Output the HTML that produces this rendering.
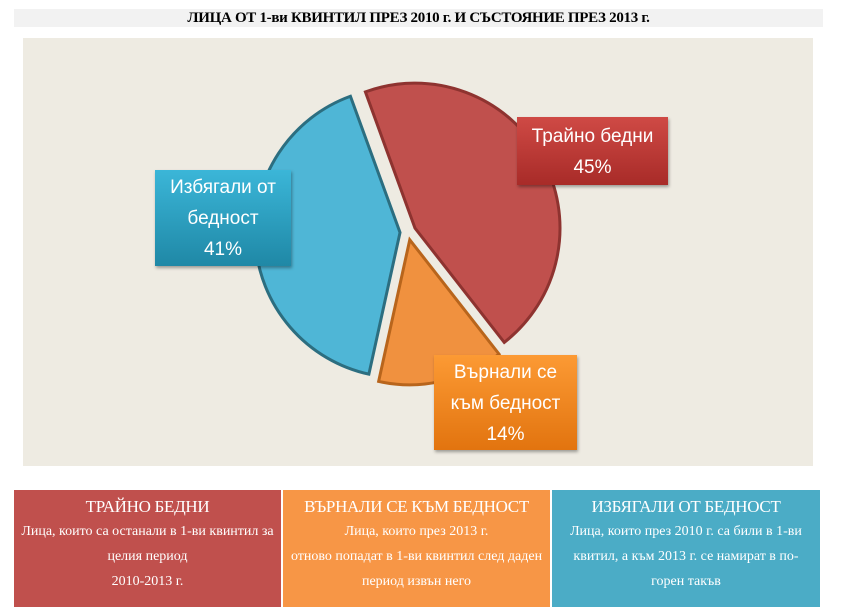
<!DOCTYPE html>
<html><head><meta charset="utf-8"><style>
body{margin:0;width:842px;height:613px;background:#fff;position:relative;overflow:hidden;font-family:"Liberation Sans","DejaVu Sans",sans-serif}
.title{position:absolute;left:14px;top:9px;width:809px;height:18px;background:#f2f2f2;text-align:center;font:bold 15px/18px "Liberation Serif",serif;letter-spacing:-0.3px;color:#000}
.plot{position:absolute;left:23px;top:38px;width:790px;height:428px;background:#eeebe2}
.lbl{position:absolute;color:#fff;text-align:center;font-size:19px;line-height:31px;box-shadow:1px 2px 3px rgba(0,0,0,.35)}
.box{position:absolute;top:490px;height:117px;color:#fff;text-align:center;font-family:"Liberation Serif",serif}
.box h3{margin:7px 0 2px;font-weight:normal;font-size:17px;letter-spacing:-.3px}
.box p{margin:0;font-size:14px;line-height:25px;padding:0 6px}
</style></head><body>
<div class="title">ЛИЦА ОТ 1-ви КВИНТИЛ ПРЕЗ 2010 г. И СЪСТОЯНИЕ ПРЕЗ 2013 г.</div>
<div class="plot"></div>
<svg id="pie" width="842" height="613" style="position:absolute;left:0;top:0">
<defs>
<linearGradient id="gr" x1="0" y1="0" x2="0" y2="1"><stop offset="0" stop-color="#cf4a45"/><stop offset="1" stop-color="#a82b28"/></linearGradient>
<linearGradient id="gb" x1="0" y1="0" x2="0" y2="1"><stop offset="0" stop-color="#3bb6d8"/><stop offset="1" stop-color="#1f88a6"/></linearGradient>
<linearGradient id="go" x1="0" y1="0" x2="0" y2="1"><stop offset="0" stop-color="#fc9a34"/><stop offset="1" stop-color="#e2740f"/></linearGradient>
</defs>
</svg>
<div class="lbl" style="left:517px;top:117px;width:151px;height:68px;background:linear-gradient(#cf4a45,#a82b28);padding-top:4px;box-sizing:border-box">Трайно бедни<br>45%</div>
<div class="lbl" style="left:155px;top:170px;width:136px;height:96px;background:linear-gradient(#3bb6d8,#1f88a6);padding-top:2px;box-sizing:border-box">Избягали от<br>бедност<br>41%</div>
<div class="lbl" style="left:434px;top:355px;width:143px;height:95px;background:linear-gradient(#fc9a34,#e2740f);padding-top:2px;box-sizing:border-box">Върнали се<br>към бедност<br>14%</div>
<div class="box" style="left:14px;width:267px;background:#c0504d"><h3>ТРАЙНО БЕДНИ</h3><p>Лица, които са останали в 1-ви квинтил за целия период<br>2010-2013 г.</p></div>
<div class="box" style="left:283px;width:267px;background:#f79646"><h3>ВЪРНАЛИ СЕ КЪМ БЕДНОСТ</h3><p>Лица, които през 2013 г.<br>отново попадат в 1-ви квинтил след даден период извън него</p></div>
<div class="box" style="left:552px;width:268px;background:#4bacc6"><h3>ИЗБЯГАЛИ ОТ БЕДНОСТ</h3><p>Лица, които през 2010 г. са били в 1-ви квитил, а към 2013 г. се намират в по-горен такъв</p></div>
<script>
const categories=["Трайно бедни","Върнали се към бедност","Избягали от бедност"];
const values=[45,14,41];
const colors=["#c0504d","#f0913f","#4fb6d6"];
const edges=["#8e3330","#b8651c","#2c6e80"];
const svg=document.getElementById('pie');
const NS="http://www.w3.org/2000/svg";
const cx=408,cy=232,r=145,startDeg=-20,explode=8;
const total=values.reduce((a,b)=>a+b,0);
let a0=startDeg;
values.forEach((v,i)=>{
  const sweep=v/total*360,a1=a0+sweep,mid=(a0+a1)/2*Math.PI/180;
  const ox=cx+explode*Math.sin(mid),oy=cy-explode*Math.cos(mid);
  const p=a=>[ox+r*Math.sin(a*Math.PI/180),oy-r*Math.cos(a*Math.PI/180)];
  const [x0,y0]=p(a0),[x1,y1]=p(a1);
  const path=document.createElementNS(NS,'path');
  path.setAttribute('d',`M${ox},${oy}L${x0},${y0}A${r},${r} 0 ${sweep>180?1:0} 1 ${x1},${y1}Z`);
  path.setAttribute('fill',colors[i]);
  path.setAttribute('stroke',edges[i]);
  path.setAttribute('stroke-width','3');
  
  
  svg.appendChild(path);
  a0=a1;
});
</script>
</body></html>
